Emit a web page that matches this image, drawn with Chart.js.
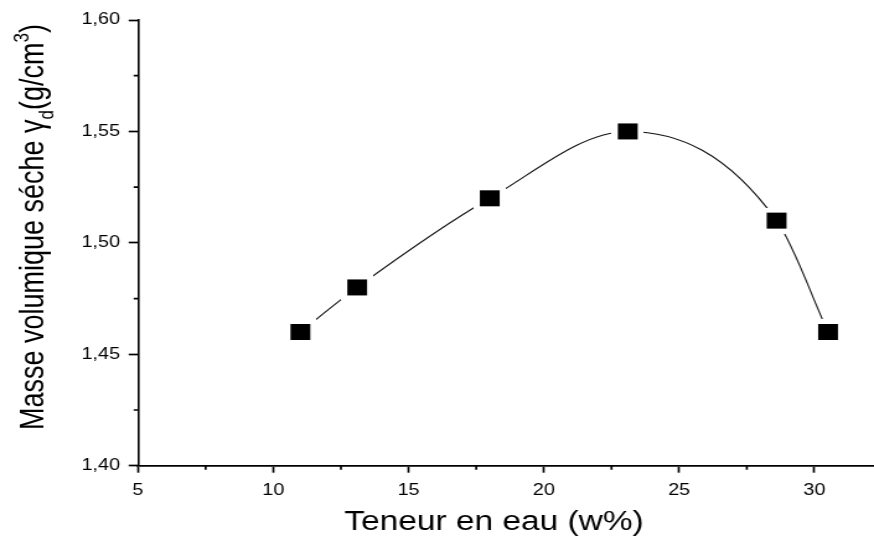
<!DOCTYPE html>
<html>
<head>
<meta charset="utf-8">
<script src="https://cdn.jsdelivr.net/npm/chart.js@4/dist/chart.umd.min.js"></script>
<style>
  html, body { margin: 0; padding: 0; background: #fff; overflow: hidden; }
  #wrap { width: 705px; height: 536px; transform: scaleX(1.2397); transform-origin: 0 0; }
</style>
</head>
<body>
<div id="wrap"><canvas id="c" width="705" height="536"></canvas></div>
<script>
// ---- data ----
const waterContent = [11.0, 13.1, 18.0, 23.1, 28.6, 30.5];      // Teneur en eau (w%)
const dryDensity   = [1.46, 1.48, 1.52, 1.55, 1.51, 1.46];      // γd (g/cm3)
const xMajorTicks  = [5, 10, 15, 20, 25, 30];
const xMinorTicks  = [7.5, 12.5, 17.5, 22.5, 27.5];
const yMajorTicks  = [1.40, 1.45, 1.50, 1.55, 1.60];
const yMinorTicks  = [1.425, 1.475, 1.525, 1.575];
const xTitle = 'Teneur en eau (w%)';
const yTitleParts = [
  { t: 'Masse volumique séche ', kind: 'n' },
  { t: 'γ', kind: 'n' },
  { t: 'd', kind: 'sub' },
  { t: '(g/cm', kind: 'n' },
  { t: '3', kind: 'sup' },
  { t: ')', kind: 'n' }
];

const FONT = '"Liberation Sans", Arial, sans-serif';

// marker: black square with a white halo so the curve stops short of it
function makeMarker() {
  const c = document.createElement('canvas');
  c.width = 26; c.height = 26;
  const g = c.getContext('2d');
  g.fillStyle = '#fff'; g.fillRect(0, 0, 26, 26);
  g.fillStyle = '#000'; g.fillRect(5, 5, 16, 16);
  return c;
}
const marker = makeMarker();

const titlesAndMinor = {
  id: 'titlesAndMinor',
  afterDraw(chart) {
    const ctx = chart.ctx;
    const xs = chart.scales.x, ys = chart.scales.y;
    const ca = chart.chartArea;
    ctx.save();
    ctx.strokeStyle = '#000';
    ctx.lineWidth = 1.7;
    ctx.beginPath();
    xMinorTicks.forEach(v => {
      const px = xs.getPixelForValue(v);
      ctx.moveTo(px, ca.bottom); ctx.lineTo(px, ca.bottom + 4);
    });
    yMinorTicks.forEach(v => {
      const py = ys.getPixelForValue(v);
      ctx.moveTo(ca.left, py); ctx.lineTo(ca.left - 3.5, py);
    });
    ctx.stroke();

    // x title
    ctx.fillStyle = '#000';
    ctx.font = '27px ' + FONT;
    ctx.textAlign = 'center';
    ctx.textBaseline = 'alphabetic';
    ctx.fillText(xTitle, 398.5, 529.5);

    // y title with subscript / superscript
    const big = 27, small = 17;
    const parts = yTitleParts.map(p => {
      const size = p.kind === 'n' ? big : small;
      ctx.font = size + 'px ' + FONT;
      return Object.assign({ size, w: ctx.measureText(p.t).width }, p);
    });
    const total = parts.reduce((s, p) => s + p.w, 0);
    ctx.translate(35, 227);
    ctx.rotate(-Math.PI / 2);
    ctx.textAlign = 'left';
    let x = -total / 2;
    parts.forEach(p => {
      ctx.font = p.size + 'px ' + FONT;
      const dy = p.kind === 'sub' ? 8 : (p.kind === 'sup' ? -12 : 0);
      ctx.fillText(p.t, x, dy);
      x += p.w;
    });
    ctx.restore();
  }
};

new Chart(document.getElementById('c'), {
  type: 'line',
  data: {
    datasets: [{
      data: waterContent.map((v, i) => ({ x: v, y: dryDensity[i] })),
      borderColor: '#111',
      borderWidth: 1.1,
      cubicInterpolationMode: 'monotone',
      pointStyle: marker,
      pointRadius: 10,
      pointHoverRadius: 10,
      fill: false
    }]
  },
  options: {
    responsive: false,
    animation: false,
    devicePixelRatio: 1,
    layout: { autoPadding: false, padding: { top: 20, right: 0, left: 0, bottom: 0 } },
    plugins: { legend: { display: false }, tooltip: { enabled: false } },
    scales: {
      x: {
        type: 'linear',
        min: 5, max: 32.2,
        afterFit(s) { s.height = 70.3; },
        afterBuildTicks(s) { s.ticks = xMajorTicks.map(v => ({ value: v })); },
        ticks: { color: '#000', font: { family: FONT, size: 16 }, padding: 8, maxRotation: 0 },
        grid: { drawOnChartArea: false, drawTicks: true, tickLength: 7, color: '#000', tickWidth: 1.7 },
        border: { display: true, color: '#000', width: 1.8 }
      },
      y: {
        type: 'linear',
        min: 1.40, max: 1.60,
        afterFit(s) { s.width = 111.3; },
        afterBuildTicks(s) { s.ticks = yMajorTicks.map(v => ({ value: v })); },
        ticks: {
          color: '#000', font: { family: FONT, size: 16 }, padding: 7,
          callback: v => Number(v).toFixed(2).replace('.', ',')
        },
        grid: { drawOnChartArea: false, drawTicks: true, tickLength: 7.5, color: '#000', tickWidth: 1.7 },
        border: { display: true, color: '#000', width: 1.6 }
      }
    }
  },
  plugins: [titlesAndMinor]
});
</script>
</body>
</html>
